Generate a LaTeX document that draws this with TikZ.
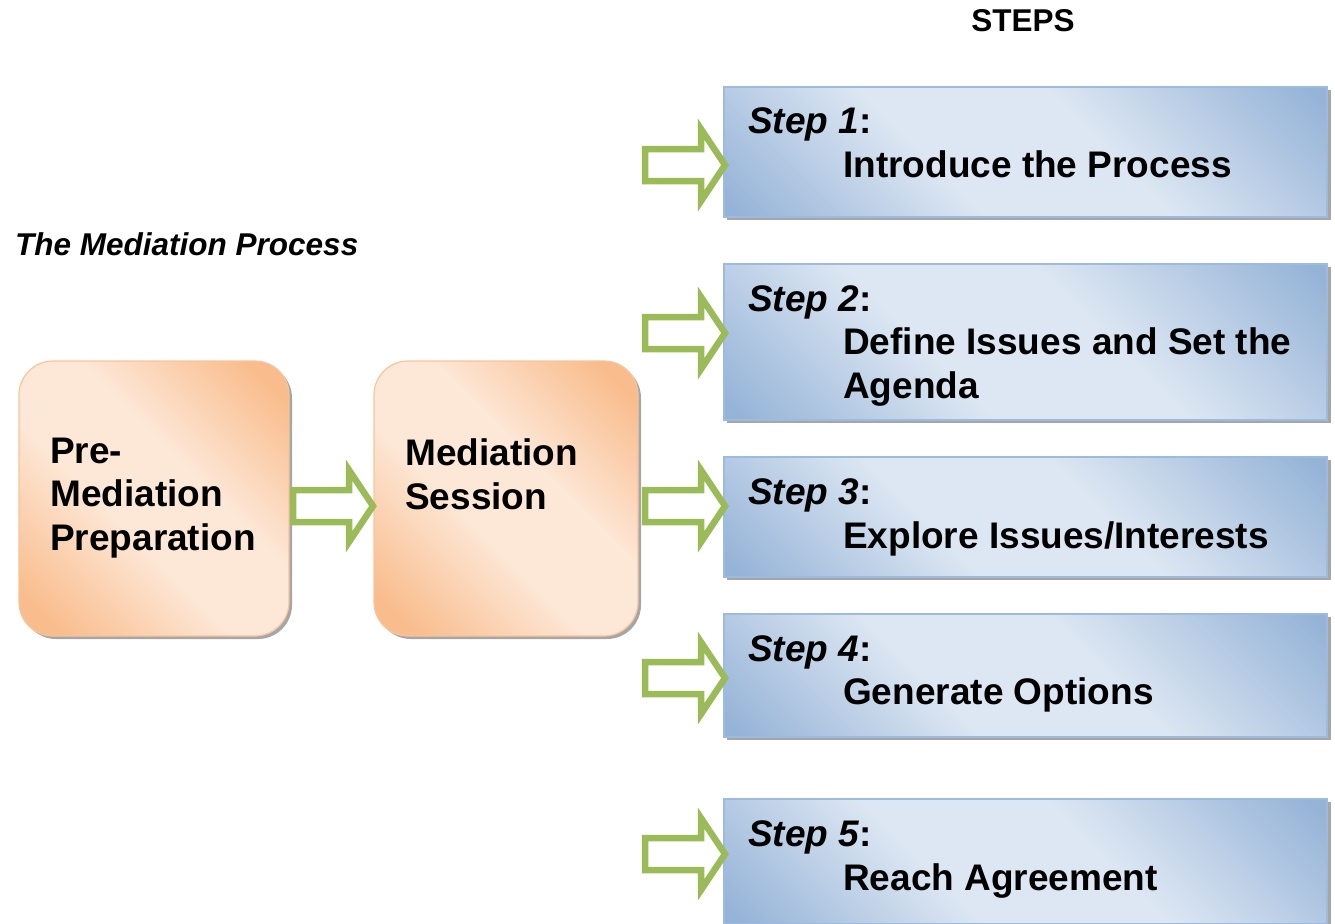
\documentclass[tikz,border=0pt]{standalone}
\usepackage{fontspec}
\setmainfont{Liberation Sans}
\begin{document}
\definecolor{bluedark}{HTML}{95B3D7}
\definecolor{bluelight}{HTML}{DDE7F3}
\definecolor{blueedge}{HTML}{9DBAE0}
\definecolor{orangedark}{HTML}{F9BC8C}
\definecolor{orangelight}{HTML}{FDE8D8}
\definecolor{orangeedge}{HTML}{F8C49B}
\definecolor{arrowgreen}{HTML}{9BBB59}
\definecolor{shadowgray}{HTML}{A6A6A6}
% diagonal fills: dark at two opposite corners, broad light band between
\pgfdeclareverticalshading{bluediag}{100bp}{color(0bp)=(bluedark); color(16bp)=(bluedark);
  color(40bp)=(bluelight); color(58bp)=(bluelight); color(84bp)=(bluedark); color(100bp)=(bluedark)}
\pgfdeclareverticalshading{orangediag}{100bp}{color(0bp)=(orangedark); color(20bp)=(orangedark);
  color(43bp)=(orangelight); color(58bp)=(orangelight); color(80bp)=(orangedark); color(100bp)=(orangedark)}
\begin{tikzpicture}[x=1pt,y=-1pt,
  bigtext/.style={font=\bfseries\fontsize{37}{43.5}\selectfont, inner sep=0pt, align=left},
  headtext/.style={font=\bfseries\fontsize{31.5}{36}\selectfont, inner sep=0pt},
  stepbox/.style={draw=blueedge, line width=1.2pt, shading=bluediag, shading angle=-45},
  phasebox/.style={draw=orangeedge, line width=1.2pt, rounded corners=34pt, shading=orangediag,
    shading angle=-45},
  boxshadow/.style={fill=shadowgray},
  hollowarrow/.style={draw=arrowgreen, fill=white, line width=6.5pt, miter limit=10}]

\useasboundingbox (0,0) rectangle (1335,923);

% hollow block arrow; #1 = tip x, #2 = centre y
\newcommand{\blockarrow}[2]{%
  \draw[hollowarrow] ({#1-80},{#2-16}) -- ({#1-24},{#2-16}) -- ({#1-24},{#2-36})
    -- (#1,#2) -- ({#1-24},{#2+36}) -- ({#1-24},{#2+16}) -- ({#1-80},{#2+16}) -- cycle;}

% headings
\node[headtext, anchor=base] (stepshead) at (1023,32) {STEPS};
\node[headtext, anchor=base west] (processhead) at (15,255) {\itshape The Mediation Process};

% phase boxes (multi-line labels are anchored on their last baseline)
\fill[boxshadow, rounded corners=34pt] (22,364) rectangle (292,639);
\path[phasebox] (19,361) rectangle (289,636);
\node[bigtext, anchor=base west] (prep) at (50,550) {Pre-\\Mediation\\Preparation};

\fill[boxshadow, rounded corners=34pt] (377,364) rectangle (641,639);
\path[phasebox] (374,361) rectangle (638,636);
\node[bigtext, anchor=base west] (session) at (405,509) {Mediation\\Session};

\blockarrow{373}{506}

% step boxes
\fill[boxshadow] (727,90) rectangle (1331,220);
\path[stepbox] (724,87) rectangle (1327,217);
\node[bigtext, anchor=base west] (s1a) at (748,133) {\textit{Step 1}:};
\node[bigtext, anchor=base west] (s1b) at (843,177) {Introduce the Process};
\blockarrow{725}{165}

\fill[boxshadow] (727,267) rectangle (1331,423);
\path[stepbox] (724,264) rectangle (1327,420);
\node[bigtext, anchor=base west] (s2a) at (748,311) {\textit{Step 2}:};
\node[bigtext, anchor=base west] (s2b) at (843,398) {Define Issues and Set the\\Agenda};
\blockarrow{725}{333}

\fill[boxshadow] (727,460) rectangle (1331,580);
\path[stepbox] (724,457) rectangle (1327,577);
\node[bigtext, anchor=base west] (s3a) at (748,504) {\textit{Step 3}:};
\node[bigtext, anchor=base west] (s3b) at (843,548) {Explore Issues/Interests};
\blockarrow{725}{506}

\fill[boxshadow] (727,617) rectangle (1331,740);
\path[stepbox] (724,614) rectangle (1327,737);
\node[bigtext, anchor=base west] (s4a) at (748,661) {\textit{Step 4}:};
\node[bigtext, anchor=base west] (s4b) at (843,704) {Generate Options};
\blockarrow{725}{678}

\fill[boxshadow] (727,802) rectangle (1331,926);
\path[stepbox] (724,799) rectangle (1327,924);
\node[bigtext, anchor=base west] (s5a) at (748,846) {\textit{Step 5}:};
\node[bigtext, anchor=base west] (s5b) at (843,890) {Reach Agreement};
\blockarrow{725}{854}

\end{tikzpicture}
\end{document}
